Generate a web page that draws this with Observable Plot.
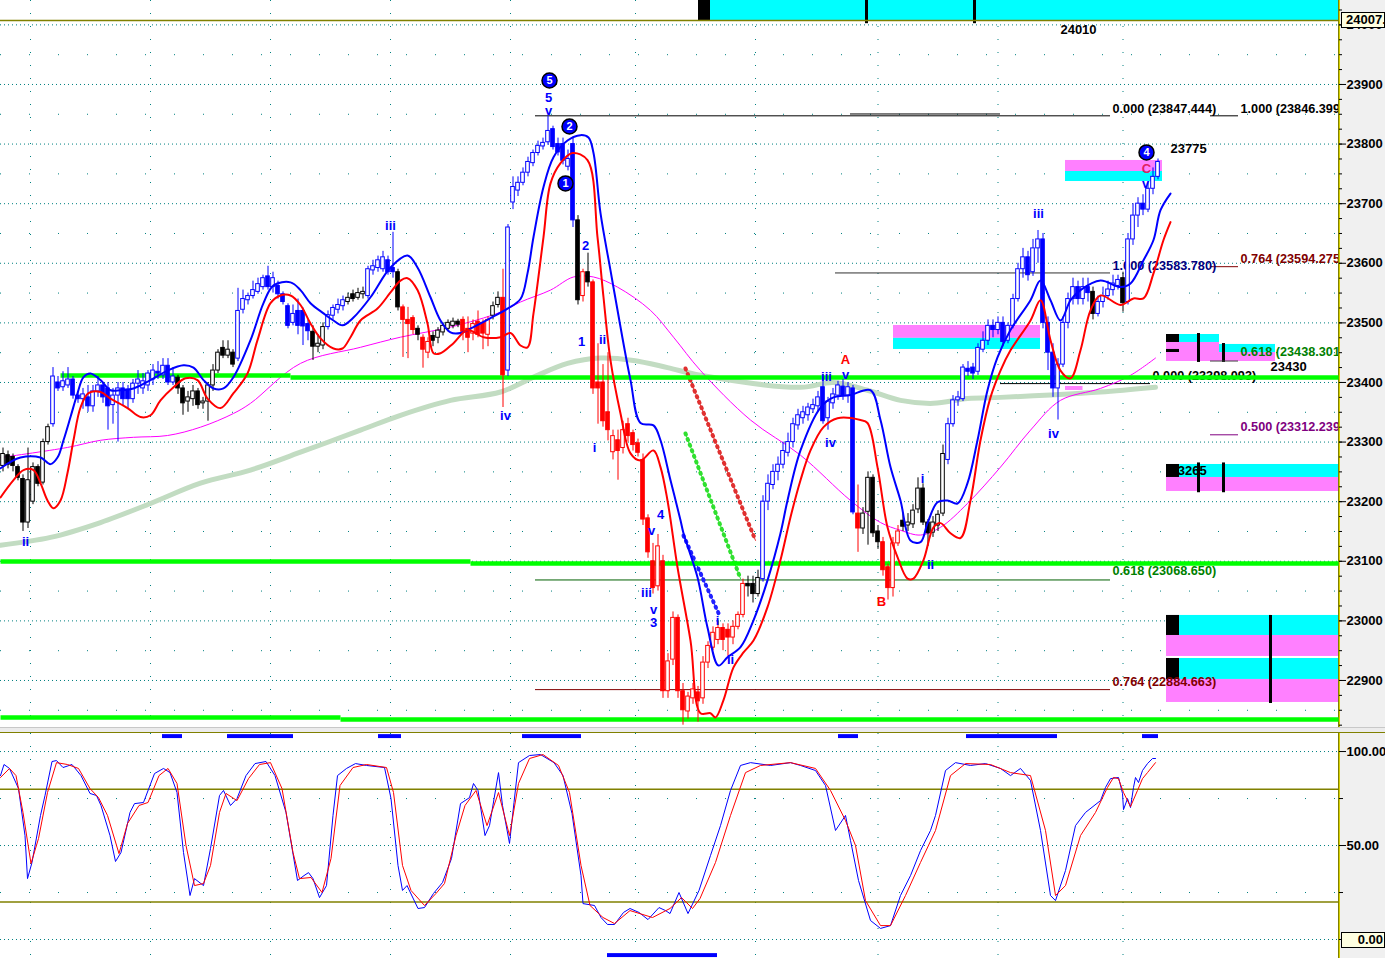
<!DOCTYPE html>
<html><head><meta charset="utf-8">
<script src="https://cdn.jsdelivr.net/npm/d3@7"></script>
<script src="https://cdn.jsdelivr.net/npm/@observablehq/plot@0.6"></script>
<style>
body{margin:0;background:#fff;}
#wrap{position:relative;width:1385px;height:958px;overflow:hidden;background:#fff;font-family:"Liberation Sans",Arial,sans-serif;}
#axisbg{position:absolute;left:1338px;top:0;width:46px;height:958px;background:#f0f0f0;border-left:1px solid #808000;box-shadow:inset 1px 0 #d8d000;}
#sep{position:absolute;left:0;top:727px;width:1385px;height:4px;background:#ececec;border-top:1px solid #c8c8c8;border-bottom:1px solid #808000;}
.pane{position:absolute;left:0;}
.vbox{position:absolute;left:1341px;width:44px;background:#ffffe1;border:1px solid #000;font:bold 13px "Liberation Sans",Arial,sans-serif;white-space:nowrap;overflow:hidden;box-sizing:border-box;line-height:13px;}
</style></head>
<body><div id="wrap"><div id="axisbg"></div><div id="topPane" class="pane" style="top:0"></div><div id="sep"></div><div id="botPane" class="pane" style="top:733px"></div></div>
<script>
const FONT = '"Liberation Sans", Arial, sans-serif';
// ---------------- candle data (bar index 0..231) ----------------
const O = [23260,23278,23275,23258,23238,23165,23200,23258,23232,23300,
23330,23400,23392,23395,23405,23378,23372,23375,23360,23385,
23395,23390,23362,23378,23390,23388,23372,23398,23390,23395,
23405,23418,23412,23428,23400,23408,23390,23368,23372,23385,
23365,23368,23395,23420,23458,23445,23450,23440,23522,23538,
23545,23552,23560,23578,23560,23562,23548,23528,23500,23520,
23520,23498,23485,23460,23462,23493,23512,23522,23528,23535,
23548,23542,23548,23545,23588,23592,23590,23605,23592,23585,
23526,23505,23508,23490,23475,23450,23478,23475,23484,23490,
23495,23502,23505,23490,23482,23502,23500,23480,23512,23530,
23542,23420,23702,23722,23735,23752,23768,23785,23796,23803,
23825,23800,23800,23762,23800,23672,23545,23585,23568,23400,
23400,23350,23283,23303,23290,23330,23315,23298,23270,23172,
23100,23058,23100,22882,22935,23005,22882,22848,22870,22880,
22870,22930,22955,22968,22988,22985,22972,22990,23010,23062,
23062,23045,23070,23200,23228,23250,23262,23282,23300,23328,
23340,23345,23355,23360,23392,23340,23365,23378,23393,23378,
23390,23180,23155,23183,23240,23150,23132,23090,23055,23130,
23168,23160,23162,23187,23222,23165,23148,23160,23180,23270,
23330,23370,23372,23423,23425,23418,23455,23470,23495,23488,
23500,23470,23495,23540,23590,23610,23585,23625,23640,23500,
23450,23390,23430,23500,23540,23560,23540,23560,23552,23515,
23535,23545,23555,23562,23575,23535,23640,23680,23700,23690,
23725,23745];
const H = [23290,23285,23280,23262,23245,23290,23265,23262,23305,23330,
23425,23410,23418,23425,23410,23385,23390,23395,23395,23410,
23400,23400,23390,23400,23400,23395,23405,23420,23415,23420,
23430,23435,23440,23440,23425,23412,23395,23385,23395,23390,
23375,23400,23430,23455,23470,23470,23455,23558,23555,23550,
23570,23575,23580,23595,23585,23570,23552,23532,23530,23540,
23525,23505,23495,23480,23500,23520,23530,23540,23545,23550,
23555,23558,23560,23595,23605,23612,23620,23612,23652,23590,
23530,23526,23512,23495,23480,23475,23485,23492,23500,23505,
23508,23506,23510,23510,23505,23520,23505,23510,23535,23552,
23590,23665,23745,23745,23760,23778,23790,23805,23810,23847,
23830,23810,23810,23790,23812,23680,23590,23617,23572,23465,
23430,23450,23320,23320,23335,23340,23320,23305,23280,23178,
23130,23145,23110,22945,23015,23010,22895,22880,22895,22890,
22940,22965,22990,23000,22995,22995,23000,23015,23070,23075,
23075,23085,23210,23245,23262,23275,23300,23315,23340,23355,
23360,23365,23372,23385,23410,23375,23390,23402,23405,23400,
23395,23228,23190,23250,23245,23160,23140,23095,23140,23160,
23180,23180,23195,23240,23230,23170,23175,23185,23295,23340,
23378,23385,23430,23435,23432,23465,23485,23505,23505,23510,
23510,23500,23548,23600,23625,23620,23640,23655,23650,23510,
23465,23440,23510,23550,23575,23570,23575,23575,23560,23545,
23560,23570,23580,23580,23585,23650,23700,23710,23715,23735,
23760,23775];
const L = [23250,23255,23250,23235,23150,23155,23195,23225,23228,23295,
23325,23385,23385,23390,23372,23365,23355,23350,23350,23375,
23365,23320,23330,23300,23360,23355,23365,23380,23380,23385,
23395,23405,23405,23395,23395,23380,23345,23350,23360,23355,
23355,23335,23385,23415,23440,23440,23425,23435,23515,23530,
23540,23548,23555,23555,23550,23540,23530,23490,23495,23480,
23462,23470,23437,23450,23455,23488,23505,23515,23520,23530,
23535,23538,23540,23540,23580,23585,23585,23580,23575,23520,
23442,23440,23480,23470,23424,23440,23460,23465,23478,23485,
23490,23492,23470,23450,23470,23475,23455,23460,23505,23525,
23358,23410,23690,23712,23730,23745,23762,23780,23790,23798,
23790,23780,23765,23755,23660,23530,23535,23560,23380,23330,
23325,23302,23270,23236,23280,23300,23285,23275,23160,23105,
23045,23050,22870,22870,22925,22870,22825,22835,22860,22830,
22860,22920,22950,22960,22950,22940,22960,22985,23005,23040,
23030,23040,23065,23185,23220,23235,23255,23275,23290,23320,
23330,23335,23348,23350,23330,23320,23355,23370,23370,23365,
23178,23115,23145,23127,23140,23120,23075,23035,23040,23125,
23150,23150,23155,23180,23160,23125,23140,23150,23175,23262,
23325,23360,23368,23410,23405,23412,23450,23462,23475,23480,
23460,23465,23490,23535,23575,23570,23578,23600,23490,23420,
23375,23337,23425,23490,23530,23530,23530,23535,23505,23510,
23525,23538,23545,23555,23518,23530,23630,23660,23680,23685,
23715,23740];
const C = [23280,23262,23260,23240,23165,23236,23258,23230,23300,23325,
23410,23390,23402,23405,23378,23372,23380,23360,23385,23395,
23375,23360,23378,23390,23372,23372,23398,23405,23402,23415,
23420,23415,23428,23400,23410,23390,23365,23375,23385,23362,
23368,23395,23420,23450,23445,23455,23430,23520,23540,23545,
23555,23565,23575,23560,23575,23548,23535,23495,23515,23495,
23494,23486,23460,23465,23493,23513,23525,23530,23538,23542,
23540,23550,23552,23590,23595,23605,23610,23585,23585,23526,
23505,23498,23488,23480,23455,23468,23470,23487,23495,23500,
23502,23497,23485,23475,23498,23480,23482,23505,23528,23542,
23412,23660,23728,23735,23752,23770,23785,23797,23802,23822,
23795,23786,23772,23775,23672,23538,23585,23568,23390,23390,
23335,23320,23310,23285,23320,23310,23295,23282,23170,23115,
23055,23125,22882,22932,23005,22882,22850,22873,22885,22865,
22930,22958,22980,22988,22968,22972,22990,23010,23062,23058,
23045,23072,23200,23230,23250,23262,23285,23300,23330,23345,
23350,23358,23362,23375,23335,23368,23380,23395,23378,23392,
23182,23155,23180,23240,23147,23132,23085,23055,23130,23150,
23158,23165,23185,23222,23165,23147,23165,23178,23280,23330,
23370,23375,23425,23418,23415,23458,23470,23495,23488,23500,
23468,23495,23540,23590,23610,23580,23625,23640,23500,23450,
23390,23430,23500,23540,23560,23540,23560,23550,23515,23535,
23545,23556,23566,23572,23533,23640,23680,23700,23690,23725,
23745,23770];
// candle colour runs [firstBar, lastBar, colour]
const colorRuns = [[0,9,"#000000"],[10,34,"#0000ff"],[35,46,"#000000"],[47,61,"#0000ff"],[62,64,"#000000"],
[65,68,"#0000ff"],[69,72,"#000000"],[73,78,"#0000ff"],[79,79,"#000000"],[80,82,"#ff0000"],[83,83,"#000000"],
[84,85,"#ff0000"],[86,91,"#000000"],[92,97,"#ff0000"],[98,99,"#000000"],[100,100,"#ff0000"],[101,114,"#0000ff"],
[115,115,"#000000"],[116,116,"#ff0000"],[117,117,"#000000"],[118,148,"#ff0000"],[149,151,"#000000"],
[152,170,"#0000ff"],[171,171,"#ff0000"],[172,175,"#000000"],[176,179,"#ff0000"],[180,188,"#000000"],
[189,217,"#0000ff"],[218,218,"#000000"],[219,223,"#0000ff"],[224,224,"#000000"],[225,231,"#0000ff"]];

// ---------------- indicator lines [bar, price] ----------------
const upperBand = [[-0.5,23256],[3.5,23274],[7.5,23274],[9.5,23263],[10.9,23274],[12.1,23303],[13.5,23342],[14.9,23382],[16.1,23409],[17.5,23415],[19.5,23404],[21.5,23387],[23.5,23387],[26.1,23390],[29.5,23404],[32.9,23420],[36.1,23429],[38.1,23425],[40.1,23404],[42.1,23390],[44.1,23390],[46.1,23409],[49.5,23471],[52.1,23533],[54.1,23563],[57.5,23568],[59.5,23555],[61.5,23533],[64.1,23516],[66.1,23504],[67.9,23496],[70.1,23509],[73.5,23543],[77.5,23593],[80.9,23613],[82.9,23593],[85.5,23543],[87.5,23504],[89.5,23484],[91.5,23483],[94.1,23493],[97.5,23508],[100.9,23524],[103.5,23540],[104.9,23583],[106.1,23644],[108.1,23728],[110.1,23778],[112.9,23806],[115.5,23815],[117.1,23811],[118.1,23785],[119.5,23684],[121.5,23588],[123.5,23493],[125.5,23404],[127.5,23332],[130.1,23328],[131.5,23303],[133.5,23236],[135.5,23169],[136.1,23147],[138.9,23073],[140.9,22989],[143.1,22925],[144.9,22939],[147.5,22956],[150.1,23001],[152.9,23068],[155.5,23147],[156.9,23202],[159.5,23286],[163.5,23358],[166.1,23375],[169.5,23379],[173.5,23387],[175.5,23337],[177.5,23258],[179.5,23202],[181.5,23135],[183.5,23132],[184.9,23164],[186.9,23199],[188.9,23202],[190.9,23197],[192.9,23231],[194.9,23303],[196.9,23387],[198.9,23442],[201.5,23488],[205.5,23538],[207.5,23571],[209.5,23538],[211.5,23504],[213.5,23538],[215.5,23555],[219.5,23571],[223.5,23560],[225.5,23566],[228.1,23605],[230.1,23639],[231.5,23689],[233.5,23717]];
const lowerBand = [[-0.5,23207],[2.1,23236],[4.1,23253],[6.1,23253],[7.5,23231],[8.9,23202],[10.1,23189],[11.5,23202],[12.9,23248],[14.1,23303],[15.5,23358],[17.1,23382],[19.5,23384],[21.5,23373],[24.9,23357],[27.5,23342],[29.5,23345],[31.5,23370],[34.1,23392],[36.5,23407],[38.9,23404],[40.9,23373],[43.5,23357],[46.1,23382],[48.9,23415],[50.9,23471],[53.5,23533],[55.5,23546],[57.5,23546],[59.5,23530],[61.5,23499],[63.5,23474],[66.1,23457],[67.9,23457],[69.5,23476],[71.5,23504],[74.9,23524],[77.5,23551],[79.5,23571],[80.9,23575],[82.9,23555],[84.9,23499],[86.1,23449],[87.5,23449],[90.1,23466],[92.9,23488],[96.1,23476],[99.5,23476],[101.5,23483],[103.5,23462],[104.9,23459],[106.1,23516],[108.1,23644],[109.5,23734],[111.5,23768],[113.9,23785],[116.9,23773],[118.9,23644],[120.1,23543],[121.5,23437],[123.5,23348],[125.5,23281],[127.5,23269],[130.1,23286],[131.5,23258],[132.9,23202],[134.9,23090],[137.5,22967],[139.5,22845],[141.5,22845],[142.5,22838],[144.1,22867],[146.1,22922],[148.1,22947],[150.1,22967],[152.9,23023],[155.5,23102],[157.5,23174],[159.5,23236],[161.5,23286],[164.1,23325],[166.9,23340],[171.5,23337],[172.9,23332],[174.9,23258],[176.9,23157],[178.9,23107],[180.9,23071],[182.1,23071],[184.1,23102],[186.1,23157],[187.5,23164],[189.5,23147],[191.5,23139],[193.5,23202],[195.5,23303],[197.5,23375],[199.5,23420],[201.5,23454],[205.5,23504],[207.5,23538],[209.5,23471],[211.5,23420],[213.5,23407],[215.5,23454],[217.5,23521],[219.5,23546],[223.5,23530],[226.1,23541],[228.1,23541],[230.1,23583],[232.1,23639],[233.5,23669]];
const fastMA = [[-0.5,23274],[12.9,23291],[19.5,23303],[26.1,23308],[32.9,23311],[39.5,23325],[46.1,23348],[49.5,23365],[59.5,23432],[71.5,23459],[79.5,23476],[89.5,23493],[99.5,23518],[103.5,23535],[109.5,23555],[114.1,23577],[118.1,23577],[122.9,23560],[129.5,23521],[134.1,23476],[139.5,23420],[149.5,23337],[159.5,23278],[169.5,23202],[175.5,23165],[179.5,23152],[183.5,23144],[187.5,23157],[192.9,23197],[199.5,23258],[205.5,23320],[211.5,23370],[219.5,23390],[225.5,23412],[230.5,23441]];
const slowMA = [[-0.5,23127],[9.5,23140],[19.5,23165],[29.5,23197],[39.5,23231],[49.5,23253],[59.5,23283],[71.5,23320],[79.5,23345],[89.5,23370],[99.5,23384],[106.1,23409],[112.9,23432],[119.5,23441],[126.1,23437],[132.9,23425],[139.5,23412],[159.5,23392],[166.1,23400],[172.9,23387],[179.5,23370],[186.1,23365],[192.9,23373],[199.5,23375],[209.5,23379],[219.5,23384],[230.5,23392]];

// ---------------- stochastic [bar, value] ----------------
const stochK = [[-0.5,87.2],[0.2,93.1],[1.3,91],[3.1,80.3],[4.4,55.3],[4.9,32.4],[5.8,41],[7.5,66],[8.4,76.6],[9.8,94.7],[10.7,95.2],[12,91.5],[13.8,93.1],[15.6,87.2],[17.4,77.7],[18.7,76.6],[19.6,71.3],[21.4,55.3],[22.5,41.5],[23.6,46.3],[25.4,67.6],[26.3,72.3],[28.1,72.9],[30.3,88.3],[32.1,91],[33.4,88.8],[34.8,78.2],[36.1,46.3],[37.4,23.4],[38.3,32.4],[40.1,28.7],[41.5,48.4],[43.3,76.6],[44.1,79.3],[45.5,71.3],[46.8,75],[48.6,87.2],[50.4,93.6],[52.6,94.7],[54.4,87.2],[56.6,67.6],[58.9,31.4],[60.2,34],[61.1,35.6],[62,32.4],[63.3,22.3],[64.7,28.7],[66,66],[66.9,87.2],[68.7,91],[70.5,93.6],[72.7,92.6],[76.3,91.5],[77.6,75],[79,39.4],[79.9,26.1],[80.8,28.7],[83,16.5],[84.3,17],[86.1,24.5],[87.9,30.3],[89.7,43.1],[91.5,72.3],[93.3,75.5],[94.1,83],[95,79.3],[96.4,55.3],[97.3,60.6],[99.1,88.8],[99.9,71.3],[101.3,51.1],[102.2,72.9],[103.1,94.1],[105.3,97.9],[107.5,98.4],[110.2,94.1],[112,87.2],[113.8,67],[115.6,34],[116,19.1],[118.3,18.1],[119.6,11.7],[120.9,8],[122.3,8],[124.1,14.4],[125.4,16.5],[127.2,14.4],[129,10.6],[131.2,17],[132.5,15.4],[133.4,13.8],[135.2,25],[137,13.8],[139.2,26.1],[141.5,44.7],[143.5,60.6],[145.5,79.3],[147.5,92.6],[149.5,94.1],[153.5,92.6],[157.5,94.1],[159.5,92.6],[162.5,89.9],[164.5,81.9],[166.5,58],[168.5,66],[169.5,52.7],[171.1,31.4],[173.5,10.1],[175.5,5.9],[177.5,7.4],[179.5,23.4],[181.5,34],[183.5,47.3],[185.5,58],[186.5,66],[188.5,89.9],[190.5,94.1],[193.5,92.6],[196.5,93.6],[199.5,91],[201.5,87.2],[203.5,91],[205.5,84.6],[207.5,58],[209.5,23.4],[210.5,20.7],[212.5,36.7],[214.5,60.6],[216.5,67.6],[219.5,73.9],[220.5,80.9],[221.5,85.6],[223.1,86.2],[223.9,77.7],[224.1,69.1],[224.9,75],[225.5,70.2],[226.1,80.9],[226.5,86.2],[227.1,83.5],[227.9,89.9],[228.9,93.6],[229.9,96.3],[230.5,96.3]];
const stochD = [[-0.5,86.2],[1.3,91],[2.6,87.2],[4,67.6],[5.6,40.4],[7.1,53.7],[8.9,78.2],[10.7,94.1],[12.9,93.1],[15.1,91],[17.4,80.3],[19.1,75.5],[20.9,66],[23.2,45.7],[24.9,61.7],[27.2,71.3],[29,72.9],[31.2,87.2],[33,91],[34.8,83],[36.6,50],[38.3,28.7],[40.1,29.8],[41.5,39.4],[43.3,67.6],[44.6,77.7],[46.8,73.9],[49.1,85.6],[51.3,93.1],[53.5,94.1],[55.8,80.3],[58,46.3],[59.3,32.4],[61.6,33],[63.8,25],[65.6,43.1],[67.4,81.9],[70,91.5],[72.7,93.1],[76.7,91.5],[78.1,78.2],[79.9,39.4],[81.6,26.1],[84.3,18.1],[86.6,24.5],[88.3,29.8],[90.6,55.3],[92.4,71.3],[94.6,79.3],[96.8,60.6],[99.1,78.2],[101.3,55.3],[103.1,83],[105.3,96.3],[108,98.4],[111.1,92.6],[113.3,78.2],[115.6,39.4],[117.4,18.1],[120,11.7],[122.3,8.5],[125.4,15.4],[129.9,11.7],[133.4,16.5],[135.7,22.3],[137.9,16.5],[139.4,21.8],[142.5,41],[145.5,66],[148.5,88.8],[151.5,92.6],[157.5,94.1],[162.5,91],[165.5,79.3],[168.5,63.3],[170.5,50],[172.5,20.7],[175.5,7.4],[177.5,7.4],[180.5,23.4],[183.5,41],[186.5,58],[189.5,87.2],[192.5,93.6],[197.5,93.1],[201.5,88.8],[205.5,87.2],[208.5,58],[210.5,23.4],[212.5,28.7],[215.5,55.3],[218.5,67.6],[220.9,80.9],[222.1,86.2],[223.1,85.6],[224.1,78.2],[225.5,70.7],[226.9,79.3],[227.9,85.6],[228.9,88.8],[230.5,94.1]];
const stochHighRuns = [[31.9,35.9],[44.9,58.1],[75.1,79.7],[103.9,115.7],[167.1,171.1],[192.7,210.9],[227.9,231.1]];
const stochLowRuns = [[120.9,142.9]];

// ---------------- levels, zones, labels ----------------
const priceTicks = [22900,23000,23100,23200,23300,23400,23500,23600,23700,23800,23900,24000];
const halfLevels = [22850,22950,23050,23150,23250,23350,23450,23550,23650,23750,23850,23950];
const timeGrid = [5.5,29.5,53.5,77.5,101.5,126.5,150.5,175,199,224];
const markerLevel = [24007.4];
const greenSegs = [[11.5,23411.7,57.5,23411.7],[57.5,23408.4,267.1,23408.4],[-0.5,23099.7,93.5,23099.7],[93.5,23096.3,267.1,23096.3],[-0.5,22837.9,67.5,22837.9],[67.5,22834.6,267.1,22834.6]];
const zonesLight = [
 [141.5,267.1,24007.4,24041,"#00ffff"],
 [212.5,231.9,23754,23772.5,"#ff80ff"],[212.5,231.9,23737.2,23754,"#00ffff"],
 [178.1,207.5,23474,23495.6,"#ff80ff"],[178.1,207.5,23455.4,23474,"#00ffff"],
 [212.5,216,23386.6,23393.3,"#ff80ff"],
 [232.7,254.5,23435.2,23450.3,"#ff80ff"],[243.3,254.5,23450.3,23463.8,"#00ffff"],
 [235.3,243.3,23467.1,23480.5,"#00ffff"],[232.7,243.3,23450.3,23467.1,"#ff80ff"],
 [235.3,267.1,23240.6,23262.4,"#00ffff"],[232.7,267.1,23217.1,23240.6,"#ff80ff"],
 [235.3,267.1,22975.5,23009.1,"#00ffff"],[232.7,267.1,22940.3,22975.5,"#ff80ff"],
 [235.3,267.1,22901.7,22936.9,"#00ffff"],[232.7,267.1,22863.1,22901.7,"#ff80ff"]];
const zonesDark = [[139.1,141.5,24007.4,24041],[232.7,235.3,23467.1,23480.5],[232.7,235.3,23450.3,23455.4],
 [232.7,235.3,23240.6,23262.4],[232.7,235.3,22975.5,23009.1],[232.7,235.3,22901.7,22936.9]];
const zoneTicks = [[172.7,24002,24041],[194.3,24002,24041],[239.1,23433.6,23482.2],[244.1,23433.6,23465.4],
 [239.1,23215,23265],[244.1,23215,23265],[253.5,22861.4,23009.1]];
const fibLines = [[106.5,221.5,23847.4,"#000000"],[169.5,199.5,23850.5,"#000000"],[241.5,247.1,23847.4,"#000000"],
 [106.5,221.5,23068.65,"#006000"],[106.5,221.5,22884.66,"#800000"],[166.5,221.5,23583.78,"#303030"],
 [241.5,247.1,23594.3,"#800000"],[241.5,247.1,23436,"#404040"],[241.5,247.1,23312.2,"#800080"],
 [199.5,229.5,23398.1,"#000000"]];
const fibTexts = [[221.9,23859.7,"0.000 (23847.444)","#000000"],[247.5,23859.7,"1.000 (23846.399)","#000000"],
 [221.9,23596.3,"1.000 (23583.780)","#000080"],[247.5,23608,"0.764 (23594.275)","#800000"],
 [247.5,23452,"0.618 (23438.301)","#008000"],[247.5,23326,"0.500 (23312.239)","#800080"],
 [229.9,23411.7,"0.000 (23398.093)","#000000"],[221.9,23083,"0.618 (23068.650)","#008000"],
 [221.9,22898,"0.764 (22884.663)","#800000"]];
const trendLines = [
 {pts:[[136.5,23423.5],[150.5,23135]], color:"#e03030"},
 {pts:[[136.5,23314.4],[147.5,23071]], color:"#30e030"},
 {pts:[[136.1,23143],[143.1,23013]], color:"#2020ff"}];
const waveLabels = [[4.5,23133,"ii","#0000ff"],[77.5,23663,"iii","#0000ff"],[100.5,23344.6,"iv","#0000ff"],
 [109.1,23878,"5","#0000ff"],[109.1,23856,"v","#0000ff"],[116.5,23630,"2","#0000ff"],[115.7,23469,"1","#0000ff"],
 [119.9,23472,"ii","#0000ff"],[118.3,23291,"i","#0000ff"],[131.5,23178.5,"4","#0000ff"],[129.7,23151.7,"v","#0000ff"],
 [128.7,23047.7,"iii","#0000ff"],[130.1,23019,"v","#0000ff"],[130.1,22997,"3","#0000ff"],[142.9,23000.7,"i","#0000ff"],
 [145.5,22934,"ii","#0000ff"],[164.7,23410,"iii","#0000ff"],[168.5,23413.4,"v","#0000ff"],[165.5,23299,"iv","#0000ff"],
 [183.9,23239,"i","#0000ff"],[185.5,23094.6,"ii","#0000ff"],[207.1,23683.6,"iii","#0000ff"],[210.1,23314.4,"iv","#0000ff"],
 [228.5,23734,"v","#0000ff"],[168.5,23438.6,"A","#ff0000"],[175.7,23032.5,"B","#ff0000"],[228.7,23759,"C","#e02060"]];
const circled = [[109.3,23906.7,"5"],[113.3,23829.5,"2"],[112.5,23734,"1"],[228.7,23786,"4"]];
const centerNotes = [[215.1,23992,"24010"]];
const startNotes = [[233.5,23792.6,"23775"],[253.5,23426.8,"23430"]];
const hiddenNote = [[233.5,23252,"23265"]];
const stochTicks = [100, 50, 0];
const stochOlive = [80, 20];
const stochSparse = [75, 25];

// ---------------- build ----------------
const colorOf = i => { for (const r of colorRuns) if (i >= r[0] && i <= r[1]) return r[2]; return "#000"; };
const bars = O.map((o, i) => ({i, o, h: H[i], l: L[i], c: C[i], col: colorOf(i)}));
const xDomain = [-0.5, 267.1];
const topH = 727, botH = 225;
const textOpts = {fontSize: 13, fontWeight: "bold", fill: "#000"};

const topPlot = Plot.plot({
  width: 1385, height: topH, marginLeft: 0, marginRight: 47, marginTop: 0, marginBottom: 0,
  x: {domain: xDomain, axis: null},
  y: {domain: [22821.1, 24040.9], axis: null},
  color: {type: "identity"},
  style: {background: "transparent", fontFamily: FONT},
  marks: [
    Plot.ruleY(priceTicks, {stroke: "#008080", strokeDasharray: "1,3"}),
    Plot.ruleY(halfLevels, {stroke: "#008080", strokeDasharray: "1,28"}),
    Plot.ruleX(timeGrid, {stroke: "#008080", strokeDasharray: "1,12"}),
    Plot.rect(zonesLight, {x1: d => d[0], x2: d => d[1], y1: d => d[2], y2: d => d[3], fill: d => d[4]}),
    Plot.text(hiddenNote, {x: d => d[0], y: d => d[1], text: d => d[2], textAnchor: "start", ...textOpts}),
    Plot.rect(zonesDark, {x1: d => d[0], x2: d => d[1], y1: d => d[2], y2: d => d[3], fill: "#000"}),
    Plot.ruleX(zoneTicks, {x: d => d[0], y1: d => d[1], y2: d => d[2], stroke: "#000", strokeWidth: 3}),
    Plot.ruleY(markerLevel, {stroke: "#808000", strokeWidth: 1.5}),
    Plot.ruleY(fibLines, {x1: d => d[0], x2: d => d[1], y: d => d[2], stroke: d => d[3], strokeWidth: 1}),
    Plot.text(fibTexts, {x: d => d[0], y: d => d[1], text: d => d[2], fill: d => d[3], textAnchor: "start", fontSize: 12.7, fontWeight: "bold", clip: true}),
    Plot.line(slowMA, {x: d => d[0], y: d => d[1], stroke: "#c2dcc2", strokeWidth: 5, curve: "catmull-rom"}),
    Plot.line(fastMA, {x: d => d[0], y: d => d[1], stroke: "#ff00ff", strokeWidth: 1, curve: "catmull-rom"}),
    ...trendLines.flatMap(t => [
      Plot.line(t.pts, {x: d => d[0], y: d => d[1], stroke: t.color, strokeWidth: 1}),
      Plot.line(t.pts, {x: d => d[0], y: d => d[1], stroke: t.color, strokeWidth: 4, strokeDasharray: "1,5"})
    ]),
    Plot.link(greenSegs, {x1: d => d[0], y1: d => d[1], x2: d => d[2], y2: d => d[3], stroke: "#00ff00", strokeWidth: 4.5}),
    Plot.ruleX(bars, {x: "i", y1: "l", y2: "h", stroke: "col", strokeWidth: 1}),
    Plot.rect(bars, {x1: d => d.i - 0.36, x2: d => d.i + 0.36, y1: d => Math.min(d.o, d.c), y2: d => Math.max(d.o, d.c),
      fill: d => d.c < d.o ? d.col : "#ffffff", stroke: "col", strokeWidth: 1}),
    Plot.line(upperBand, {x: d => d[0], y: d => d[1], stroke: "#0000ff", strokeWidth: 2, curve: "catmull-rom"}),
    Plot.line(lowerBand, {x: d => d[0], y: d => d[1], stroke: "#ff0000", strokeWidth: 2, curve: "catmull-rom"}),
    Plot.text(waveLabels, {x: d => d[0], y: d => d[1], text: d => d[2], fill: d => d[3], fontSize: 13, fontWeight: "bold"}),
    Plot.dot(circled, {x: d => d[0], y: d => d[1], r: 7.5, fill: "#0000ff", stroke: "#000", strokeWidth: 1.5}),
    Plot.text(circled, {x: d => d[0], y: d => d[1], text: d => d[2], fill: "#fff", fontSize: 11, fontWeight: "bold"}),
    Plot.text(centerNotes, {x: d => d[0], y: d => d[1], text: d => d[2], textAnchor: "middle", ...textOpts}),
    Plot.text(startNotes, {x: d => d[0], y: d => d[1], text: d => d[2], textAnchor: "start", ...textOpts}),
    Plot.axisY(d3.range(22825, 24041, 25), {anchor: "right", tickSize: 3, tickFormat: () => "", label: null}),
    Plot.axisY(priceTicks, {anchor: "right", tickSize: 7, tickPadding: 1, tickFormat: d => String(d), fontSize: 13, fontWeight: "bold", label: null})
  ]
});
document.getElementById("topPane").appendChild(topPlot);

const botPlot = Plot.plot({
  width: 1385, height: botH, marginLeft: 0, marginRight: 47, marginTop: 0, marginBottom: 0,
  x: {domain: xDomain, axis: null},
  y: {domain: [-10.1, 109.6], axis: null},
  style: {background: "transparent", fontFamily: FONT},
  marks: [
    Plot.ruleY(stochTicks, {stroke: "#008080", strokeDasharray: "1,3"}),
    Plot.ruleY(stochSparse, {stroke: "#008080", strokeDasharray: "1,28"}),
    Plot.ruleX(timeGrid, {stroke: "#008080", strokeDasharray: "1,12"}),
    Plot.ruleY(stochOlive, {stroke: "#808000", strokeWidth: 1.5}),
    Plot.rect(stochHighRuns, {x1: d => d[0], x2: d => d[1], y1: 106.9, y2: 109.0, fill: "#0000ff"}),
    Plot.rect(stochLowRuns, {x1: d => d[0], x2: d => d[1], y1: -9.6, y2: -7.5, fill: "#0000ff"}),
    Plot.line(stochK, {x: d => d[0], y: d => d[1], stroke: "#0000ff", strokeWidth: 1}),
    Plot.line(stochD, {x: d => d[0], y: d => d[1], stroke: "#ff0000", strokeWidth: 1}),
    Plot.axisY(stochSparse, {anchor: "right", tickSize: 4, tickFormat: () => "", label: null}),
    Plot.axisY(stochTicks, {anchor: "right", tickSize: 7, tickPadding: 1, tickFormat: d => d === 0 ? "" : d.toFixed(2), fontSize: 13, fontWeight: "bold", label: null})
  ]
});
document.getElementById("botPane").appendChild(botPlot);

// value boxes on the axis
const wrapEl = document.getElementById("wrap");
const ty = topPlot.scale("y").apply(24007.4);
const b1 = document.createElement("div"); b1.className = "vbox";
b1.style.top = (ty - 8) + "px"; b1.style.height = "16px"; b1.style.paddingLeft = "4px"; b1.textContent = "24007.";
wrapEl.appendChild(b1);
const by = 733 + botPlot.scale("y").apply(0);
const b2 = document.createElement("div"); b2.className = "vbox";
b2.style.top = (by - 7) + "px"; b2.style.height = "16px"; b2.style.textAlign = "right"; b2.style.paddingRight = "1px"; b2.textContent = "0.00";
wrapEl.appendChild(b2);
</script></body></html>
